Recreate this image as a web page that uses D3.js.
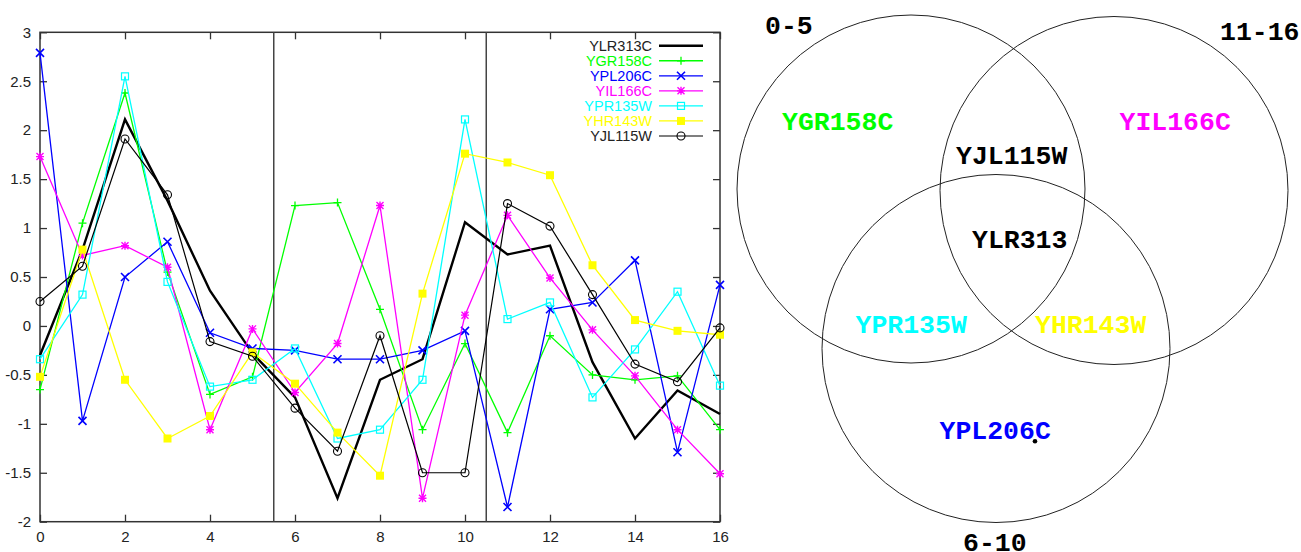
<!DOCTYPE html>
<meta charset="utf-8">
<title>Expression profiles and Venn diagram</title>
<style>
  body { margin: 0; background: #fff; }
  text { font-family: "Liberation Sans", Arial, sans-serif; }
  .venn text { font-family: "Liberation Mono", "Courier New", monospace; font-weight: bold; }
</style>
<svg width="1301" height="552"></svg>
<script src="https://cdn.jsdelivr.net/npm/d3@7"></script>
<script>

// time points 0..16
var timePoints = d3.range(0, 17);

var genes = ["YLR313C", "YGR158C", "YPL206C", "YIL166C", "YPR135W", "YHR143W", "YJL115W"];

var ylr313c = [-0.30, 0.78, 2.11, 1.28, 0.36, -0.28, -0.73, -1.76, -0.55, -0.34, 1.06, 0.73, 0.82, -0.37, -1.15, -0.66, -0.90];
var ygr158c = [-0.65, 1.05, 2.38, 0.55, -0.70, -0.52, 1.23, 1.26, 0.17, -1.06, -0.18, -1.09, -0.10, -0.50, -0.55, -0.51, -1.06];
var ypl206c = [2.79, -0.97, 0.50, 0.86, -0.07, -0.23, -0.25, -0.34, -0.34, -0.25, -0.05, -1.85, 0.17, 0.24, 0.67, -1.29, 0.42];
var yil166c = [1.73, 0.72, 0.82, 0.60, -1.06, -0.03, -0.68, -0.18, 1.23, -1.76, 0.11, 1.13, 0.49, -0.04, -0.51, -1.06, -1.51];
var ypr135w = [-0.34, 0.32, 2.55, 0.45, -0.62, -0.55, -0.23, -1.15, -1.06, -0.55, 2.11, 0.07, 0.24, -0.73, -0.24, 0.35, -0.61];
var yhr143w = [-0.52, 0.78, -0.55, -1.15, -0.92, -0.27, -0.59, -1.09, -1.53, 0.33, 1.76, 1.67, 1.54, 0.62, 0.06, -0.05, -0.09];
var yjl115w = [0.25, 0.61, 1.91, 1.34, -0.16, -0.31, -0.84, -1.28, -0.10, -1.50, -1.50, 1.25, 1.02, 0.32, -0.39, -0.57, -0.02];

var values = [ylr313c, ygr158c, ypl206c, yil166c, ypr135w, yhr143w, yjl115w];

var xTicks = [0, 2, 4, 6, 8, 10, 12, 14, 16];
var yTicks = [-2, -1.5, -1, -0.5, 0, 0.5, 1, 1.5, 2, 2.5, 3];
var splits = [5.5, 10.5]; // boundaries between the time windows

// venn sets and the genes that fall in each region
var setNames = ["0-5", "11-16", "6-10"];
var regionGenes = {
  "0-5": ["YGR158C"],
  "11-16": ["YIL166C"],
  "6-10": ["YPL206C"],
  "0-5&11-16": ["YJL115W"],
  "0-5&6-10": ["YPR135W"],
  "11-16&6-10": ["YHR143W"],
  "all": ["YLR313"]
};

var colors = ["#000000", "#00ff00", "#0000ff", "#ff00ff", "#00ffff", "#ffff00", "#000000"];
var symbols = [null, "plus", "cross", "star", "square", "filledSquare", "circle"];
var widths = [2.4, 1.3, 1.3, 1.3, 1.3, 1.3, 1.2];

var svg = d3.select("svg");

var x = d3.scaleLinear().domain([0, 16]).range([40, 720]);
var y = d3.scaleLinear().domain([-2, 3]).range([521.7, 32.3]);

var fmt = function(d) { return String(d); };

// axes, gnuplot style: ticks inside, mirrored
var gx = svg.append("g").attr("transform", "translate(0," + y(-2) + ")")
  .call(d3.axisBottom(x).tickValues(xTicks).tickSize(-7).tickSizeOuter(0).tickPadding(10).tickFormat(fmt));
var gy = svg.append("g").attr("transform", "translate(" + x(0) + ",0)")
  .call(d3.axisLeft(y).tickValues(yTicks).tickSize(-7).tickSizeOuter(0).tickPadding(9).tickFormat(fmt));
svg.append("g").attr("transform", "translate(0," + y(3) + ")")
  .call(d3.axisTop(x).tickValues(xTicks).tickSize(-7).tickSizeOuter(0).tickFormat(""));
svg.append("g").attr("transform", "translate(" + x(16) + ",0)")
  .call(d3.axisRight(y).tickValues(yTicks).tickSize(-7).tickSizeOuter(0).tickFormat(""));

svg.selectAll(".domain").remove();
svg.selectAll(".tick line").attr("stroke", "#333").attr("stroke-width", 1.3);
svg.selectAll(".tick text").attr("fill", "#222").style("font-size", "15px")
  .style("font-family", "'Liberation Sans', Arial, sans-serif");

svg.append("rect")
  .attr("x", x(0)).attr("y", y(3))
  .attr("width", x(16) - x(0)).attr("height", y(-2) - y(3))
  .attr("fill", "none").attr("stroke", "#333").attr("stroke-width", 1.5);

svg.selectAll(".split")
  .data(splits)
  .enter().append("line")
    .attr("class", "split")
    .attr("x1", function(d) { return x(d); }).attr("x2", function(d) { return x(d); })
    .attr("y1", y(3)).attr("y2", y(-2))
    .attr("stroke", "#444").attr("stroke-width", 1.5);

function drawMarker(g, type, color) {
  var s = 4;
  if (type == "plus") {
    g.append("path").attr("d", "M" + (-s) + ",0H" + s + "M0," + (-s) + "V" + s)
      .attr("stroke", color).attr("stroke-width", 1.3).attr("fill", "none");
  } else if (type == "cross") {
    g.append("path").attr("d", "M-4,-4L4,4M-4,4L4,-4")
      .attr("stroke", color).attr("stroke-width", 1.6).attr("fill", "none");
  } else if (type == "star") {
    g.append("path").attr("d", "M-4,0H4M0,-4V4M-3.5,-3.5L3.5,3.5M-3.5,3.5L3.5,-3.5")
      .attr("stroke", color).attr("stroke-width", 1.4).attr("fill", "none");
  } else if (type == "square") {
    g.append("rect").attr("x", -3.5).attr("y", -3.5).attr("width", 7).attr("height", 7)
      .attr("stroke", color).attr("stroke-width", 1.2).attr("fill", "none");
  } else if (type == "filledSquare") {
    g.append("rect").attr("x", -4).attr("y", -4).attr("width", 8).attr("height", 8)
      .attr("fill", color);
  } else if (type == "circle") {
    g.append("circle").attr("r", 4)
      .attr("stroke", color).attr("stroke-width", 1.1).attr("fill", "none");
  }
}

var line = d3.line()
  .x(function(d, i) { return x(timePoints[i]); })
  .y(function(d) { return y(d); });

var plot = svg.append("g");

values.forEach(function(vals, k) {
  plot.append("path")
    .attr("d", line(vals))
    .attr("fill", "none")
    .attr("stroke", colors[k])
    .attr("stroke-width", widths[k])
    .attr("stroke-linejoin", "miter");
  if (symbols[k]) {
    vals.forEach(function(v, i) {
      var m = plot.append("g").attr("transform", "translate(" + x(timePoints[i]) + "," + y(v) + ")");
      drawMarker(m, symbols[k], colors[k]);
    });
  }
});

// legend
var legend = svg.append("g").attr("transform", "translate(652,45.7)");
genes.forEach(function(name, k) {
  var row = legend.append("g").attr("transform", "translate(0," + (k * 15.05) + ")");
  row.append("text")
    .attr("text-anchor", "end")
    .attr("dy", "0.36em")
    .style("font-size", "14.5px")
    .attr("fill", k == 0 || k == 6 ? "#222" : colors[k])
    .text(name);
  row.append("line")
    .attr("x1", 7).attr("x2", 51).attr("y1", 0).attr("y2", 0)
    .attr("stroke", colors[k]).attr("stroke-width", widths[k]);
  if (symbols[k]) {
    var m = row.append("g").attr("transform", "translate(29,0)");
    drawMarker(m, symbols[k], colors[k]);
  }
});

// venn diagram
var venn = svg.append("g").attr("class", "venn");
var circles = [
  {cx: 911, cy: 189, r: 174},
  {cx: 1114, cy: 190.5, r: 174},
  {cx: 996, cy: 348.5, r: 174}
];
venn.selectAll("circle")
  .data(circles)
  .enter().append("circle")
    .attr("cx", function(d) { return d.cx; })
    .attr("cy", function(d) { return d.cy; })
    .attr("r", function(d) { return d.r; })
    .attr("fill", "none")
    .attr("stroke", "#222")
    .attr("stroke-width", 1);

var setLabelPos = [[765, 34], [1220, 40], [963, 551]];
setNames.forEach(function(name, i) {
  venn.append("text")
    .attr("x", setLabelPos[i][0]).attr("y", setLabelPos[i][1])
    .style("font-size", "26.5px")
    .attr("fill", "#000")
    .text(name);
});

var regionPos = {
  "0-5": [782, 130],
  "11-16": [1119.5, 130],
  "6-10": [939.5, 438.7],
  "0-5&11-16": [956, 164],
  "0-5&6-10": [855.5, 332.7],
  "11-16&6-10": [1035, 332.7],
  "all": [972, 248]
};
Object.keys(regionGenes).forEach(function(key) {
  regionGenes[key].forEach(function(g) {
    var idx = genes.findIndex(function(n) { return n.indexOf(g) == 0; });
    venn.append("text")
      .attr("x", regionPos[key][0]).attr("y", regionPos[key][1])
      .style("font-size", "26.5px")
      .attr("fill", colors[idx])
      .text(g);
  });
});

venn.append("circle").attr("cx", 1035).attr("cy", 441.3).attr("r", 2.3).attr("fill", "#000");

</script>
